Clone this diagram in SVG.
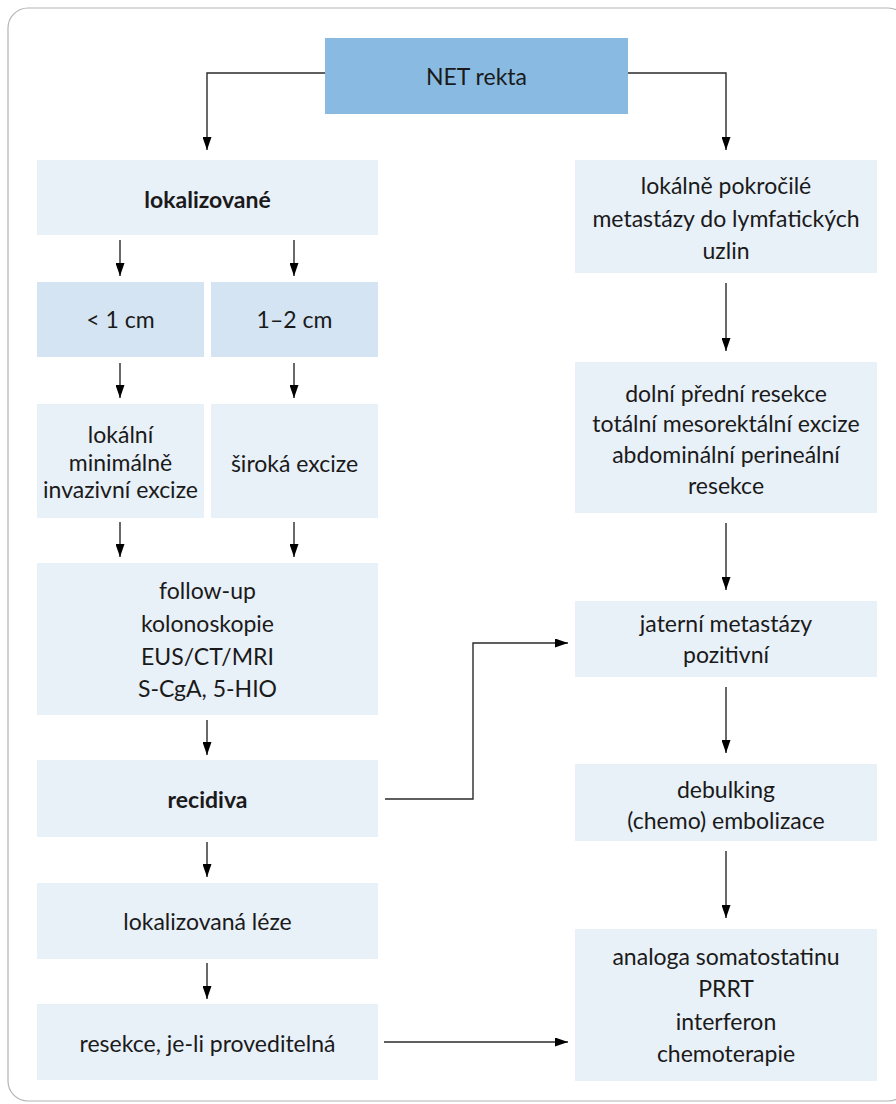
<svg xmlns="http://www.w3.org/2000/svg" width="896" height="1104" viewBox="0 0 896 1104">
<defs>
<marker id="ah" viewBox="0 0 13 9" refX="13" refY="4.5" markerWidth="13" markerHeight="9" markerUnits="userSpaceOnUse" orient="auto">
<path d="M0,0 L13,4.5 L0,9 Z" fill="#000"/>
</marker>
<style>
.frame{fill:#fff;stroke:#b4b4b4;stroke-width:1.2}
.top{fill:#89bbe2}
.lt{fill:#e8f0f8}
.md{fill:#d5e4f3}
text{font-family:"Lato","Open Sans","Liberation Sans",sans-serif;font-size:23px;fill:#1a1a1a;text-anchor:middle}
.b{font-weight:bold}
.c{fill:none;stroke:#2a2a2a;stroke-width:1.4;marker-end:url(#ah)}
</style>
</defs>
<rect class="frame" x="8" y="8" width="900" height="1093" rx="20"/>

<g id="connectors">
<path class="c" d="M325,73 H207 V150"/>
<path class="c" d="M628,73 H726 V150"/>
<path class="c" d="M120,240 V276"/>
<path class="c" d="M294,240 V276"/>
<path class="c" d="M120,363 V398"/>
<path class="c" d="M294,363 V398"/>
<path class="c" d="M120,522 V557"/>
<path class="c" d="M294,522 V557"/>
<path class="c" d="M207,720 V755"/>
<path class="c" d="M207,842 V877"/>
<path class="c" d="M207,963 V999"/>
<path class="c" d="M726,283 V351"/>
<path class="c" d="M726,523 V590"/>
<path class="c" d="M726,687 V753"/>
<path class="c" d="M726,851 V918"/>
<path class="c" d="M385,799 H473 V643 H568"/>
<path class="c" d="M384,1042 H568"/>
</g>

<g id="n-net"><rect class="top" x="325" y="38" width="303" height="76"/><text x="476.5" y="85">NET rekta</text></g>
<g id="n-lokalizovane"><rect class="lt" x="37" y="160" width="341" height="75"/><text class="b" x="207.5" y="208">lokalizované</text></g>
<g id="n-lt1"><rect class="md" x="37" y="282" width="167" height="75"/><text x="120.5" y="328">&lt; 1 cm</text></g>
<g id="n-12"><rect class="md" x="211" y="282" width="167" height="75"/><text x="294.5" y="328">1–2 cm</text></g>
<g id="n-lokalni"><rect class="lt" x="37" y="404" width="167" height="114"/><text x="120.5" y="443">lokální</text><text x="120.5" y="471">minimálně</text><text x="120.5" y="498">invazivní excize</text></g>
<g id="n-siroka"><rect class="lt" x="211" y="404" width="167" height="114"/><text x="294.5" y="472">široká excize</text></g>
<g id="n-followup"><rect class="lt" x="37" y="563" width="341" height="152"/><text x="207.5" y="599">follow-up</text><text x="207.5" y="632">kolonoskopie</text><text x="207.5" y="664.5">EUS/CT/MRI</text><text x="207.5" y="697">S-CgA, 5-HIO</text></g>
<g id="n-recidiva"><rect class="lt" x="37" y="760" width="341" height="77"/><text class="b" x="207.5" y="808">recidiva</text></g>
<g id="n-leze"><rect class="lt" x="37" y="883" width="341" height="76"/><text x="207.5" y="930">lokalizovaná léze</text></g>
<g id="n-resekce"><rect class="lt" x="37" y="1004" width="341" height="76"/><text x="207.5" y="1051.5">resekce, je-li proveditelná</text></g>

<g id="n-pokrocile"><rect class="lt" x="575" y="160" width="302" height="113"/><text x="726" y="194">lokálně pokročilé</text><text x="726" y="226.5">metastázy do lymfatických</text><text x="726" y="259">uzlin</text></g>
<g id="n-dolni"><rect class="lt" x="575" y="362" width="302" height="151"/><text x="726" y="401.5">dolní přední resekce</text><text x="726" y="432">totální mesorektální excize</text><text x="726" y="463">abdominální perineální</text><text x="726" y="494">resekce</text></g>
<g id="n-jaterni"><rect class="lt" x="575" y="601" width="302" height="76"/><text x="726" y="632">jaterní metastázy</text><text x="726" y="663">pozitivní</text></g>
<g id="n-debulking"><rect class="lt" x="575" y="764" width="302" height="77"/><text x="726" y="798">debulking</text><text x="726" y="829">(chemo) embolizace</text></g>
<g id="n-analoga"><rect class="lt" x="575" y="929" width="302" height="152"/><text x="726" y="965">analoga somatostatinu</text><text x="726" y="997">PRRT</text><text x="726" y="1030">interferon</text><text x="726" y="1062">chemoterapie</text></g>
</svg>
